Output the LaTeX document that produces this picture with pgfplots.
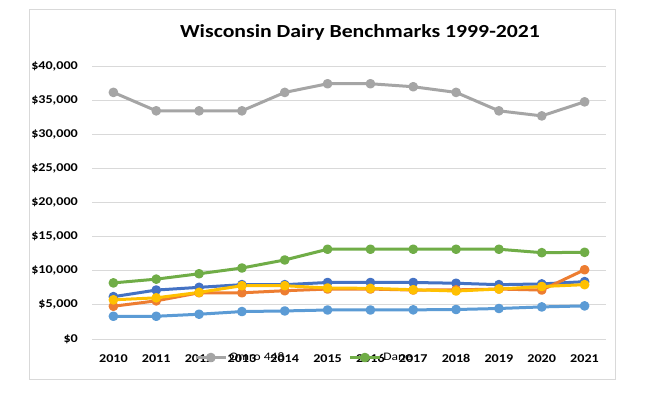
\documentclass[border=0pt]{standalone}
\usepackage{pgfplots}
\pgfplotsset{compat=1.18}
\usepackage{fontspec}
\setmainfont{Carlito}[FakeStretch=1.18]
\definecolor{cblue}{HTML}{4472C4}
\definecolor{corange}{HTML}{ED7D31}
\definecolor{cgray}{HTML}{A5A5A5}
\definecolor{cyellow}{HTML}{FFC000}
\definecolor{clblue}{HTML}{5B9BD5}
\definecolor{cgreen}{HTML}{70AD47}
\definecolor{cgrid}{HTML}{D9D9D9}
\begin{document}
\begin{tikzpicture}
\useasboundingbox (0bp,0bp) rectangle (645bp,396bp);
\fill[white] (0bp,0bp) rectangle (645bp,396bp);
\draw[cgrid, line width=0.75bp] (29.5bp,17bp) rectangle (615.7bp,386.5bp);
\node[anchor=base, inner sep=0pt, font=\bfseries\fontsize{18.5}{22}\selectfont] at (360bp,358.3bp) {Wisconsin Dairy Benchmarks 1999-2021};
\begin{axis}[
  at={(92bp,57bp)}, anchor=south west, scale only axis,
  width=514bp, height=273bp,
  xmin=2009.5, xmax=2021.5, ymin=0, ymax=40000,
  xtick={2010,...,2021}, ytick={0,5000,...,40000},
  axis line style={draw=none}, major tick length=0pt,
  ymajorgrids, grid style={cgrid, line width=0.75bp},
  /pgf/number format/assume math mode=true,
  xticklabel style={font=\bfseries\fontsize{12}{14}\selectfont, anchor=base, inner sep=0pt, yshift=-24bp, /pgf/number format/1000 sep=},
  yticklabel style={font=\bfseries\fontsize{12}{14}\selectfont, anchor=east, inner sep=0pt, xshift=-14bp},
  yticklabel={\$\pgfmathprintnumber[fixed,precision=0,1000 sep={,}]{\tick}},
  scaled y ticks=false,
  every axis plot/.append style={line width=3bp, mark=*, mark size=3.3bp, line join=round},
  legend style={at={(0.193,-0.068)}, anchor=west, draw=none, fill=none, legend columns=2,
    font=\fontsize{11.5}{14}\selectfont, /tikz/every even column/.append style={column sep=62bp}},
  legend image code/.code={\draw[mark repeat=2,mark phase=2,#1] plot coordinates {(0bp,0bp) (15bp,0bp) (30bp,0bp)};},
  clip=false,
]
\addplot[cblue, forget plot] coordinates {(2010,6200) (2011,7170) (2012,7570) (2013,7960) (2014,7960) (2015,8280) (2016,8280) (2017,8280) (2018,8170) (2019,7960) (2020,8070) (2021,8400)};
\addplot[corange, forget plot] coordinates {(2010,4800) (2011,5590) (2012,6770) (2013,6770) (2014,7070) (2015,7320) (2016,7320) (2017,7170) (2018,7200) (2019,7320) (2020,7170) (2021,10150)};
\addplot[cgray] coordinates {(2010,36130) (2011,33430) (2012,33430) (2013,33430) (2014,36130) (2015,37400) (2016,37400) (2017,36960) (2018,36130) (2019,33430) (2020,32690) (2021,34750)};
\addlegendentry{Omro 448}
\addplot[cyellow, forget plot] coordinates {(2010,5740) (2011,6030) (2012,6830) (2013,7810) (2014,7810) (2015,7470) (2016,7420) (2017,7220) (2018,7030) (2019,7320) (2020,7690) (2021,7960)};
\addplot[clblue, forget plot] coordinates {(2010,3330) (2011,3330) (2012,3630) (2013,4020) (2014,4110) (2015,4250) (2016,4250) (2017,4270) (2018,4320) (2019,4470) (2020,4700) (2021,4850)};
\addplot[cgreen] coordinates {(2010,8220) (2011,8770) (2012,9560) (2013,10400) (2014,11580) (2015,13150) (2016,13150) (2017,13150) (2018,13150) (2019,13150) (2020,12650) (2021,12700)};
\addlegendentry{Dane}
\end{axis}
\end{tikzpicture}
\end{document}
